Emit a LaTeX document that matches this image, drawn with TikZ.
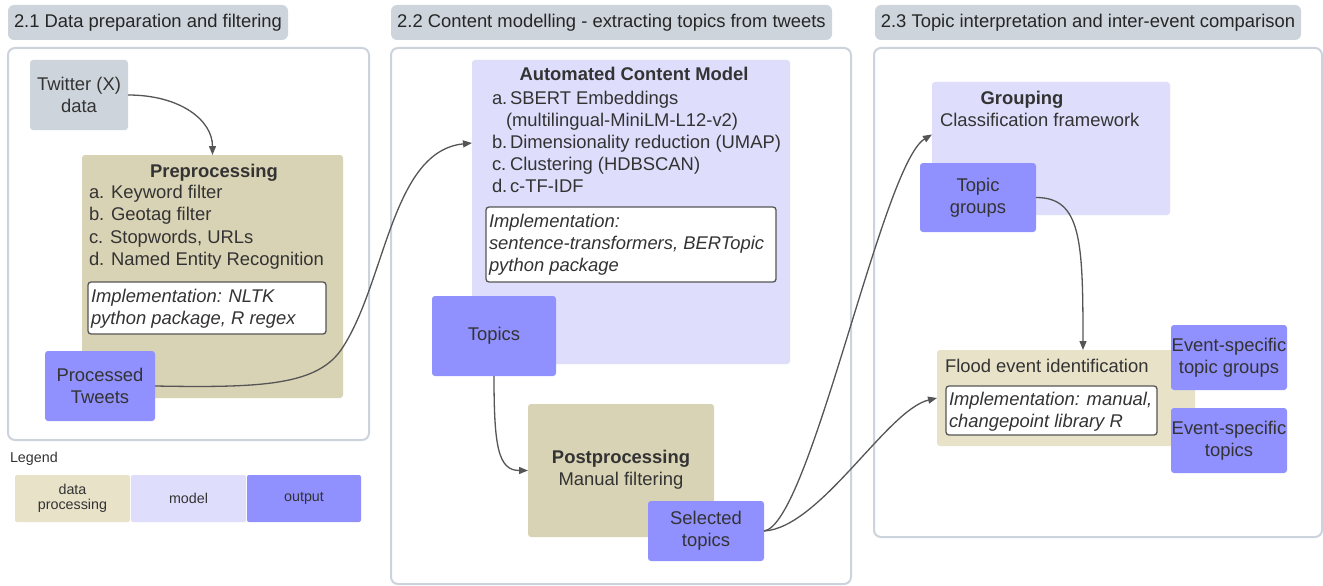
\documentclass[tikz,border=0pt]{standalone}
\usepackage{fontspec}
\setmainfont{Liberation Sans}
\usetikzlibrary{arrows.meta}
\definecolor{ttl}{HTML}{CED4DC}
\definecolor{frm}{HTML}{CDD3DC}
\definecolor{tanD}{HTML}{D9D3B5}
\definecolor{tanL}{HTML}{E8E2C9}
\definecolor{lav}{HTML}{DEDEFC}
\definecolor{outc}{HTML}{9090FF}
\definecolor{txt}{HTML}{333333}
\definecolor{arr}{HTML}{555555}
\newcommand\mybox[7]{\node[boxbase,#6,minimum width={#4-#2},minimum height={#5-#3}] (#1) at ({(#2+#4)/2},{(#3+#5)/2}) {#7};}
\begin{document}
\begin{tikzpicture}[x=1pt,y=-1pt,font=\fontsize{18.4}{22}\selectfont,text=txt,
  boxbase/.style={inner sep=0pt,outer sep=0pt,rounded corners=3pt,align=center},
  titlebox/.style={fill=ttl,rounded corners=6pt,text=black!85},
  frame/.style={draw=frm,line width=2pt,fill=white,rounded corners=7pt},
  twbox/.style={fill=ttl},
  procbox/.style={fill=tanD},
  proclight/.style={fill=tanL},
  modelbox/.style={fill=lav},
  outbox/.style={fill=outc},
  implbox/.style={draw=arr,line width=1.3pt,fill=white},
  lbl/.style={inner sep=0pt,outer sep=0pt,anchor=base west},
  lblc/.style={inner sep=0pt,outer sep=0pt,anchor=base,font=\fontsize{18.4}{22}\selectfont\bfseries},
  impl/.style={inner sep=0pt,outer sep=0pt,anchor=base west,font=\fontsize{18.4}{22}\selectfont\itshape},
  conn/.style={draw=arr,line width=1.3pt,-{Triangle[length=9pt,width=7pt]}},
  legtext/.style={font=\fontsize{14.3}{17}\selectfont}]
\useasboundingbox (0,0) rectangle (1323,586);
\fill[white] (0,0) rectangle (1323,586);

% titles
\mybox{t1}{8}{5}{288}{40}{titlebox}{2.1 Data preparation and filtering}
\mybox{t2}{391}{5}{832}{40}{titlebox}{2.2 Content modelling - extracting topics from tweets}
\mybox{t3}{875}{5}{1301}{40}{titlebox}{2.3 Topic interpretation and inter-event comparison}

% frames
\mybox{f1}{8}{48}{369}{440}{frame}{}
\mybox{f2}{391}{48}{851}{584}{frame}{}
\mybox{f3}{874}{48}{1322}{537}{frame}{}

% panel 1
\mybox{tw}{30}{60}{128}{130}{twbox}{Twitter (X)\\data}
\mybox{pre}{82}{155}{343}{398}{procbox}{}
\node[lblc] (preT) at (214,177) {Preprocessing};
\node[lbl] (preA) at (89,198) {a. Keyword filter};
\node[lbl] (preB) at (89,220) {b. Geotag filter};
\node[lbl] (preC) at (89,243) {c. Stopwords, URLs};
\node[lbl] (preD) at (89,265) {d. Named Entity Recognition};
\mybox{preI}{88}{282}{326}{334}{implbox}{}
\node[impl] (preI1) at (91,302) {Implementation: NLTK};
\node[impl] (preI2) at (91,324) {python package, R regex};
\mybox{pt}{45}{351}{155}{421}{outbox}{Processed\\Tweets}

% legend
\node[lbl,legtext] (leg) at (10,462) {Legend};
\mybox{legA}{15}{475}{130}{522}{proclight,legtext,rounded corners=2pt}{data\\[-2pt]processing}
\mybox{legB}{131}{475}{246}{522}{modelbox,legtext,rounded corners=2pt}{model}
\mybox{legC}{247}{475}{361}{522}{outbox,legtext,rounded corners=2pt}{output}

% panel 2
\mybox{acm}{472}{60}{790}{364}{modelbox}{}
\node[lblc] (acmT) at (634,81) {Automated Content Model};
\node[lbl] (acmA) at (492,104) {a.};
\node[lbl] (acmA1) at (510,104) {SBERT Embeddings};
\node[lbl] (acmA2) at (506,126) {(multilingual-MiniLM-L12-v2)};
\node[lbl] (acmB) at (492,148) {b.};
\node[lbl] (acmB1) at (510,148) {Dimensionality reduction (UMAP)};
\node[lbl] (acmC) at (492,170) {c.};
\node[lbl] (acmC1) at (510,170) {Clustering (HDBSCAN)};
\node[lbl] (acmD) at (492,192) {d.};
\node[lbl] (acmD1) at (510,192) {c-TF-IDF};
\mybox{acmI}{486}{207}{776}{282}{implbox}{}
\node[impl] (acmI1) at (489,227) {Implementation:};
\node[impl] (acmI2) at (489,249) {sentence-transformers, BERTopic};
\node[impl] (acmI3) at (489,271) {python package};
\mybox{topics}{432}{296}{556}{376}{outbox}{Topics}
\mybox{post}{528}{404}{714}{537}{procbox}{}
\node[lblc] (postT) at (621,463) {Postprocessing};
\node[lbl,anchor=base] (postS) at (621,485) {Manual filtering};
\mybox{sel}{648}{501}{764}{561}{outbox}{Selected\\topics}

% panel 3
\mybox{grp}{932}{82}{1170}{215}{modelbox}{}
\node[lblc] (grpT) at (1022,104) {Grouping};
\node[lbl] (grpS) at (940,126) {Classification framework};
\mybox{tg}{920}{163}{1036}{232}{outbox}{Topic\\groups}
\mybox{flood}{937}{350}{1195}{446}{proclight}{}
\node[lbl] (floodT) at (945,372) {Flood event identification};
\mybox{floodI}{946}{386}{1157}{435}{implbox}{}
\node[impl] (floodI1) at (949,405) {Implementation: manual,};
\node[impl] (floodI2) at (949,427) {changepoint library R};
\mybox{estg}{1171}{325}{1287}{390}{outbox}{Event-specific\\topic groups}
\mybox{est}{1171}{408}{1287}{473}{outbox}{Event-specific\\topics}

% connectors
\coordinate (bend) at (343,347);
\draw[conn] (tw.east) .. controls +(52,0) and +(0,-35) .. (pre.north);
\draw[conn] (pt.east) .. controls +(110,2) and +(-24,38) .. (bend)
  .. controls +(43,-67) and +(-80,8) .. ([yshift=-83pt]acm.north west);
\draw[conn] (topics.south) .. controls +(0,70) and +(-30,0) .. (post.west);
\draw[conn] (sel.east) .. controls +(46,-6) and +(-50,30) .. ([yshift=14pt]grp.west);
\draw[conn] (sel.east) .. controls +(56,-3) and +(-50,12) .. (flood.west);
\draw[conn] (tg.east) .. controls +(45,0) and +(0,-110) .. ([xshift=17pt]flood.north);
\end{tikzpicture}
\end{document}
